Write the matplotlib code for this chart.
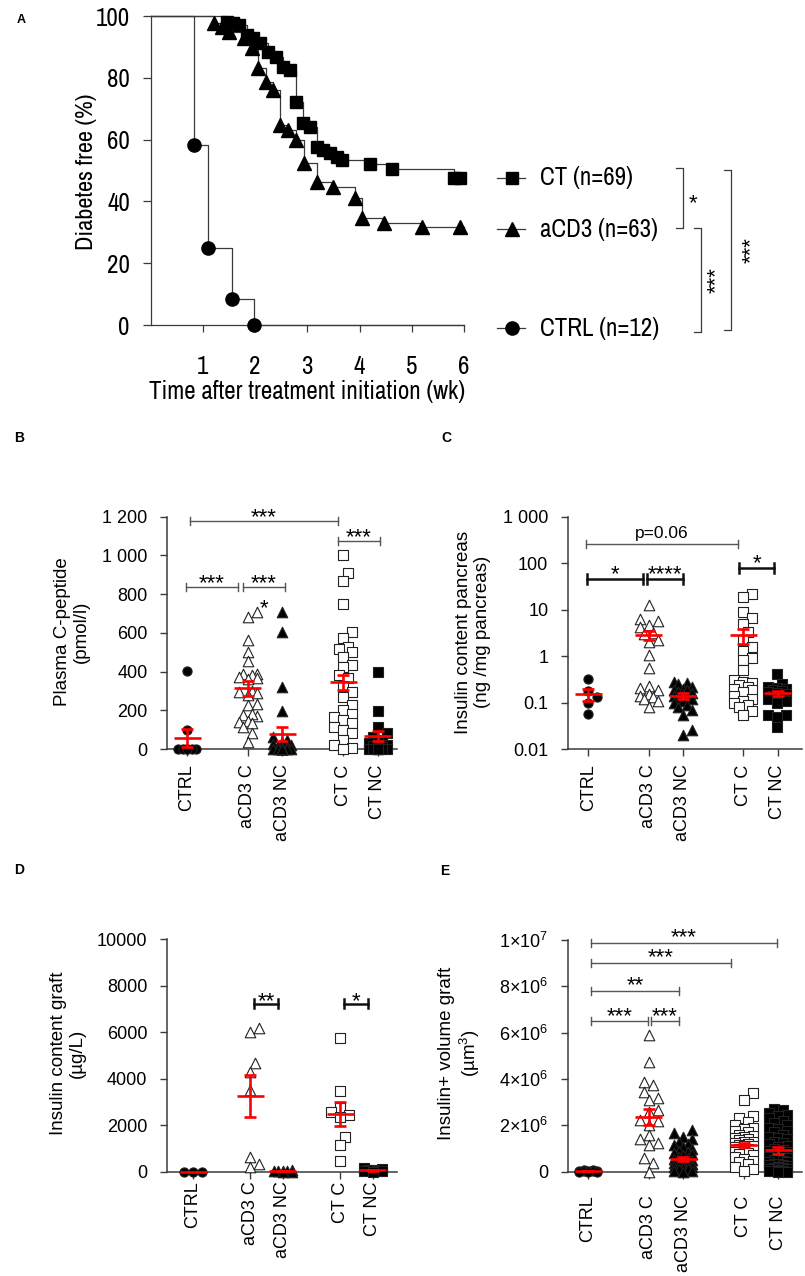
import numpy as np
import matplotlib
matplotlib.use("Agg")
import matplotlib.pyplot as plt
from matplotlib import font_manager as fm
from matplotlib.font_manager import FontProperties

plt.rcParams['font.family'] = ['Liberation Sans', 'DejaVu Sans']
plt.rcParams['mathtext.fontset'] = 'custom'
plt.rcParams['mathtext.rm'] = 'Liberation Sans'
plt.rcParams['mathtext.it'] = 'Liberation Sans:italic'

# panel A uses a narrow font if one is installed
_named = sorted({f.name for f in fm.fontManager.ttflist
                 if ('Narrow' in f.name or 'Condensed' in f.name) and f.weight in (400, 'normal', 'regular')})
_stretched = sorted({f.name for f in fm.fontManager.ttflist
                     if f.stretch in ('condensed', 'semi-condensed') and 'Mono' not in f.name})
if _named:
    A_FAM, A_STR, A_SCALE = _named[0], 'normal', 1.0
elif _stretched:
    A_FAM, A_STR, A_SCALE = _stretched[0], 'condensed', 1.0
else:
    A_FAM, A_STR, A_SCALE = 'Liberation Sans', 'normal', 0.88


def afont(size):
    return FontProperties(family=[A_FAM, 'DejaVu Sans'], stretch=A_STR, size=size * A_SCALE)


# ---------------- data: panel A (Kaplan-Meier) ----------------
ct_t = [1.47, 1.58, 1.70, 1.85, 1.97, 2.10, 2.25, 2.40, 2.54, 2.67, 2.79, 2.91, 3.05,
        3.18, 3.31, 3.44, 3.57, 3.66, 4.20, 4.62, 5.80, 5.92]
ct_s = [98.2, 97.7, 97.1, 93.9, 92.8, 91.2, 88.4, 86.8, 83.6, 82.5, 72.3, 65.3, 64.2,
        57.7, 56.6, 55.6, 54.5, 53.4, 52.1, 50.5, 47.7, 47.7]
acd3_t = [1.21, 1.36, 1.51, 1.78, 1.94, 2.06, 2.21, 2.35, 2.48, 2.64, 2.79, 2.93, 3.19,
          3.50, 3.92, 4.04, 4.47, 5.19, 5.92]
acd3_s = [97.6, 96.5, 94.9, 92.8, 89.5, 83.1, 78.7, 76.1, 64.7, 63.1, 59.9, 52.3, 46.4,
          44.8, 41.0, 34.5, 32.9, 31.8, 31.8]
ctrl_t = [0.83, 1.10, 1.55, 1.98]
ctrl_s = [58.3, 25.0, 8.3, 0.0]
km_names = ['CT (n=69)', 'aCD3 (n=63)', 'CTRL (n=12)']

# ---------------- data: dot plots ----------------
cats = ['CTRL', 'aCD3 C', 'aCD3 NC', 'CT C', 'CT NC']

b_vals = [
    [405, 100, 0, 0, 0, 0, 0, 0],
    [709, 680, 563, 503, 456, 390, 380, 385, 370, 365, 360, 296, 300, 290, 279, 227, 230,
     176, 170, 180, 141, 145, 135, 115, 81, 38],
    [709, 606, 322, 198, 60, 45, 35, 25, 20, 15, 10, 5, 0, 0, 0, 0, 0, 0, 0, 0, 0, 0, 0, 0],
    [1000, 910, 870, 747, 606, 571, 525, 515, 500, 477, 434, 422, 382, 365, 325, 296, 270,
     227, 201, 180, 167, 150, 133, 115, 100, 81, 46, 20, 3, 0],
    [399, 198, 115, 85, 60, 45, 35, 30, 20, 15, 10, 5, 0, 0, 0, 0, 0, 0, 0, 0, 0, 0],
]
b_mean = [56, 313, 77, 344, 67]
b_sem = [45, 40, 38, 40, 27]

c_vals = [
    [0.32, 0.18, 0.10, 0.13, 0.058],
    [12.6, 6.2, 5.8, 4.6, 4.2, 3.2, 3.0, 2.2, 2.0, 1.05, 0.55, 0.23, 0.21, 0.19, 0.15,
     0.14, 0.13, 0.12, 0.11, 0.08],
    [0.28, 0.26, 0.25, 0.22, 0.2, 0.19, 0.19, 0.17, 0.16, 0.15, 0.14, 0.13, 0.12, 0.12,
     0.11, 0.1, 0.09, 0.08, 0.068, 0.054, 0.026, 0.02],
    [22, 19, 9, 6.5, 5, 3.3, 2.2, 1.6, 1.3, 0.9, 0.82, 0.5, 0.3, 0.27, 0.26, 0.24, 0.22,
     0.2, 0.19, 0.17, 0.14, 0.12, 0.11, 0.1, 0.089, 0.08, 0.065, 0.054],
    [0.41, 0.25, 0.22, 0.21, 0.2, 0.19, 0.18, 0.17, 0.16, 0.15, 0.14, 0.13, 0.12, 0.11,
     0.1, 0.055, 0.054, 0.05, 0.03],
]
c_mean = [0.153, 2.8, 0.137, 2.8, 0.158]
c_sem = [0.045, 0.6, 0.02, 0.95, 0.02]

d_vals = [
    [0, 0, 0],
    [6170, 6026, 4663, 4304, 3515, 646, 330, 215],
    [60, 40, 30, 20, 10, 0, 0],
    [5739, 3486, 2755, 2582, 2439, 2367, 1478, 1148, 473],
    [150, 120, 80, 60, 40, 20, 10, 0],
]
d_mean = [0, 3260, 25, 2480, 60]
d_sem = [0, 890, 8, 510, 15]

e_vals = [
    [80e3, 60e3, 50e3, 40e3, 30e3, 20e3, 10e3, 0, 0, 0],
    [5.9e6, 4.72e6, 3.86e6, 3.74e6, 3.45e6, 3.17e6, 3.09e6, 2.66e6, 2.59e6, 2.23e6,
     2.2e6, 2.01e6, 1.58e6, 1.4e6, 1.22e6, 1.15e6, 0.58e6, 0.36e6, 0.0],
    [1.8e6, 1.65e6, 1.5e6, 1.4e6, 1.3e6, 1.2e6, 1.15e6, 1.05e6, 1.0e6, 0.9e6, 0.85e6,
     0.8e6, 0.75e6, 0.7e6, 0.65e6, 0.6e6, 0.55e6, 0.5e6, 0.48e6, 0.45e6, 0.4e6, 0.38e6,
     0.35e6, 0.3e6, 0.28e6, 0.25e6, 0.22e6, 0.2e6, 0.15e6, 0.12e6, 0.1e6, 0.05e6,
     0.02e6, 0.0],
    [3.38e6, 3.1e6, 2.4e6, 2.3e6, 2.15e6, 2.0e6, 1.9e6, 1.85e6, 1.75e6, 1.7e6, 1.6e6,
     1.55e6, 1.5e6, 1.45e6, 1.4e6, 1.35e6, 1.3e6, 1.28e6, 1.25e6, 1.2e6, 1.15e6, 1.12e6,
     1.1e6, 1.05e6, 1.0e6, 0.98e6, 0.95e6, 0.9e6, 0.85e6, 0.8e6, 0.75e6, 0.7e6, 0.62e6,
     0.55e6, 0.45e6, 0.4e6, 0.32e6, 0.2e6, 0.12e6, 0.05e6],
    [2.72e6, 2.65e6, 2.55e6, 2.45e6, 2.4e6, 2.3e6, 2.2e6, 2.1e6, 2.0e6, 1.9e6, 1.85e6,
     1.75e6, 1.7e6, 1.6e6, 1.5e6, 1.45e6, 1.4e6, 1.3e6, 1.25e6, 1.2e6, 1.1e6, 1.05e6,
     1.0e6, 0.95e6, 0.9e6, 0.85e6, 0.8e6, 0.75e6, 0.7e6, 0.65e6, 0.6e6, 0.55e6, 0.5e6,
     0.45e6, 0.42e6, 0.4e6, 0.35e6, 0.32e6, 0.3e6, 0.28e6, 0.25e6, 0.2e6, 0.18e6,
     0.15e6, 0.12e6, 0.1e6, 0.08e6, 0.05e6, 0.03e6, 0.02e6, 0.0, 0.0],
]
e_mean = [30e3, 2.35e6, 0.55e6, 1.15e6, 0.93e6]
e_sem = [10e3, 0.34e6, 0.08e6, 0.1e6, 0.15e6]

# significance bars: (x1, x2, y, label)
b_sig = [(0.09, 4.35, 1177, '***'), (4.35, 5.56, 1076, '***'),
         (-0.04, 1.48, 838, '***'), (1.62, 2.82, 838, '***')]
c_sig_grey = [(-0.07, 4.36, 254, 'p=0.06')]
c_sig = [(-0.05, 1.60, 45, '*'), (1.72, 2.74, 45, '****'), (4.39, 5.41, 80, '*')]
d_sig = [(1.87, 2.61, 7217, '**'), (4.62, 5.36, 7217, '*')]
e_sig = [(0.09, 5.45, 9.88e6, '***'), (0.09, 4.13, 9.02e6, '***'),
         (0.09, 2.64, 7.81e6, '**'), (0.09, 1.74, 6.5e6, '***'), (1.81, 2.64, 6.5e6, '***')]

# ---------------- figure ----------------
W, H = 805, 1276
fig = plt.figure(figsize=(W / 100, H / 100), dpi=100)
AXC = '#3a3a3a'
STAR = 16


def px_ax(left, top, right, bottom):
    return fig.add_axes([left / W, 1 - bottom / H, (right - left) / W, (bottom - top) / H])


def ftext(x, y, s, **kw):
    return fig.text(x / W, 1 - y / H, s, **kw)


def ystep(ax, y, dpx):
    yd = ax.transData.transform((0, y))[1]
    return ax.transData.inverted().transform((0, yd + dpx))[1]


# ---------- panel A ----------
axA = px_ax(150.6, 16, 464, 325)
axA.set_xlim(0, 6)
axA.set_ylim(0, 100)
km = [(ct_t, ct_s, 's', 9), (acd3_t, acd3_s, '^', 10), (ctrl_t, ctrl_s, 'o', 9.5)]
for t, s, m, ms in km:
    axA.step([0] + t + [6], [100] + s + [s[-1]], where='post', color=AXC, lw=0.9,
             clip_on=False)
    axA.plot(t, s, ls='none', marker=m, ms=ms, color='black', clip_on=False, zorder=3)

leg_y = [47.7, 31.0, -1.0]
for (t, s, m, ms), name, y in zip(km, km_names, leg_y):
    axA.plot([6.64, 7.17], [y, y], color=AXC, lw=0.9, clip_on=False)
    axA.plot([6.92], [y], marker=m, ms=ms, color='black', clip_on=False)
    axA.text(7.46, y, name, ha='left', va='center', fontproperties=afont(18))


# brackets to the right
def vbracket(x, y1, y2):
    axA.plot([x - 0.13, x, x, x - 0.13], [y1, y1, y2, y2], color=AXC, lw=0.9, clip_on=False)


vbracket(10.19, 50.8, 31.4)
vbracket(10.54, 31.4, -2.3)
vbracket(11.11, 50.2, -1.6)
axA.text(10.39, 39.3, '*', ha='center', va='center', fontsize=STAR)
axA.text(10.84, 14.6, '***', ha='center', va='center', rotation=90, fontsize=STAR)
axA.text(11.51, 24.3, '***', ha='center', va='center', rotation=90, fontsize=STAR)

for sp in ['top', 'right']:
    axA.spines[sp].set_visible(False)
for sp in ['left', 'bottom']:
    axA.spines[sp].set_color(AXC)
    axA.spines[sp].set_linewidth(0.9)
axA.set_xticks([1, 2, 3, 4, 5, 6])
axA.set_yticks([0, 20, 40, 60, 80, 100])
axA.tick_params(axis='x', length=5, width=0.9, color=AXC, pad=16.5)
axA.tick_params(axis='y', length=6, width=0.9, color=AXC, pad=9)
for lab in axA.get_xticklabels() + axA.get_yticklabels():
    lab.set_fontproperties(afont(18))
ftext(86, 172, 'Diabetes free (%)', rotation=90, ha='center', va='center',
      fontproperties=afont(17.5))
ftext(307, 391, 'Time after treatment initiation (wk)', ha='center', va='center',
      fontproperties=afont(18))
ftext(21, 20, 'A', fontsize=9, fontweight='bold', ha='center', va='center')

# ---------- dot plot helpers ----------
POS = [0, 1.75, 2.75, 4.5, 5.5]
MARK = [('o', True, 6.6), ('^', False, 7.6), ('^', True, 7.6), ('s', False, 6.6), ('s', True, 6.6)]


def swarm(ax, xc, vals, d, maxw):
    xy = ax.transData.transform(np.column_stack([np.full(len(vals), xc), vals]))
    x0, ys = xy[0, 0], xy[:, 1]
    stp = d * 0.5
    cands = [0.0]
    n = 1
    while n * stp <= maxw:
        cands += [n * stp, -n * stp]
        n += 1
    placed, off = [], np.zeros(len(vals))
    for i in np.argsort(ys):
        best, bestgap = 0.0, -1.0
        for c in cands:
            gap = min([np.hypot(c - px, ys[i] - py) for px, py in placed], default=1e9)
            if gap >= d * 0.95:
                best = c
                break
            if gap > bestgap:
                best, bestgap = c, gap
        placed.append((best, ys[i]))
        off[i] = best
    return ax.transData.inverted().transform(np.column_stack([x0 + off, ys]))[:, 0]


def dot_panel(ax, vals, means, sems, unit, dpx=9.0, maxw=10.0):
    for k, v in enumerate(vals):
        m, filled, ms = MARK[k]
        xs = swarm(ax, POS[k], v, dpx, maxw)
        ax.scatter(xs, v, marker=m, s=ms ** 2, facecolor='black' if filled else 'white',
                   edgecolor='#222222', linewidths=0.8, zorder=3, clip_on=False)
        mu, se = means[k], sems[k]
        hw, cw = 13.5 / unit, 6.0 / unit
        kw = dict(color='#ff0000', lw=1.9, zorder=5, clip_on=False, solid_capstyle='butt')
        ax.plot([POS[k] - hw, POS[k] + hw], [mu, mu], **kw)
        if se > 0:
            ax.plot([POS[k], POS[k]], [mu - se, mu + se], **kw)
            ax.plot([POS[k] - cw, POS[k] + cw], [mu + se] * 2, **kw)
            ax.plot([POS[k] - cw, POS[k] + cw], [mu - se] * 2, **kw)


def sig(ax, bars, color, lw, cap, tdy, fs):
    for x1, x2, y, lab in bars:
        lo, hi = ystep(ax, y, -cap), ystep(ax, y, cap)
        ax.plot([x1, x2], [y, y], color=color, lw=lw, clip_on=False)
        ax.plot([x1, x1], [lo, hi], color=color, lw=lw, clip_on=False)
        ax.plot([x2, x2], [lo, hi], color=color, lw=lw, clip_on=False)
        ax.annotate(lab, ((x1 + x2) / 2, y), xytext=(0, tdy), textcoords='offset points',
                    ha='center', va='center', fontsize=fs, annotation_clip=False)


def style_ax(ax, yticks, ylabels, pad_x):
    for sp in ['top', 'right']:
        ax.spines[sp].set_visible(False)
    for sp in ['left', 'bottom']:
        ax.spines[sp].set_color(AXC)
        ax.spines[sp].set_linewidth(1.1)
    ax.set_yticks(yticks, ylabels)
    ax.set_xticks(POS, cats, rotation=90)
    ax.tick_params(axis='y', length=5, width=1.0, color=AXC, pad=9, labelsize=13)
    ax.tick_params(axis='x', length=5, width=1.0, color=AXC, pad=pad_x, labelsize=13)
    ax.minorticks_off()


def make_ax(left, top, right, bottom, pos0, unit):
    ax = px_ax(left, top, right, bottom)
    ax.set_xlim((left - pos0) / unit, (right - pos0) / unit)
    return ax


# ---------- panel B ----------
axB = make_ax(167, 516.7, 397, 749, 187, 34.7)
axB.set_ylim(0, 1200)
dot_panel(axB, b_vals, b_mean, b_sem, 34.7)
sig(axB, b_sig, '#555555', 1.0, 4, 2.2, STAR)
axB.text(2.22, 725, '*', ha='center', va='center', fontsize=STAR)
style_ax(axB, [0, 200, 400, 600, 800, 1000, 1200],
         ['0', '200', '400', '600', '800', '1 000', '1 200'], 6)
ftext(72, 632, 'Plasma C-peptide\n(pmol/l)', rotation=90, ha='center', va='center',
      fontsize=13.5, multialignment='center')
ftext(19, 438, 'B', fontsize=10, fontweight='bold', ha='center', va='center')

# ---------- panel C ----------
axC = make_ax(567.7, 516.7, 802, 749, 588.3, 34.4)
axC.set_yscale('log')
axC.set_ylim(0.01, 1000)
dot_panel(axC, c_vals, c_mean, c_sem, 34.4)
sig(axC, c_sig_grey, '#555555', 1.0, 4, 8, 12.5)
sig(axC, c_sig, '#111111', 1.8, 5, 3, STAR)
style_ax(axC, [0.01, 0.1, 1, 10, 100, 1000], ['0.01', '0.1', '1', '10', '100', '1 000'], 6)
ftext(473, 632, 'Insulin content pancreas\n(ng /mg pancreas)', rotation=90, ha='center',
      va='center', fontsize=13.5, multialignment='center')
ftext(446, 438, 'C', fontsize=10, fontweight='bold', ha='center', va='center')

# ---------- panel D ----------
axD = make_ax(166.7, 939.3, 397, 1171.7, 193, 32.7)
axD.set_ylim(0, 10000)
dot_panel(axD, d_vals, d_mean, d_sem, 32.7)
sig(axD, d_sig, '#111111', 1.8, 4.5, 1.5, STAR)
style_ax(axD, [0, 2000, 4000, 6000, 8000, 10000],
         ['0', '2000', '4000', '6000', '8000', '10000'], 2)
ftext(68, 1053, 'Insulin content graft\n(µg/L)', rotation=90, ha='center', va='center',
      fontsize=13.5, multialignment='center')
ftext(19, 870, 'D', fontsize=10, fontweight='bold', ha='center', va='center')

# ---------- panel E ----------
axE = make_ax(567.7, 940, 802, 1171.7, 588, 34.6)
axE.set_ylim(0, 1e7)
dot_panel(axE, e_vals, e_mean, e_sem, 34.6)
sig(axE, e_sig, '#555555', 1.0, 4, 3.5, STAR)
style_ax(axE, [0, 2e6, 4e6, 6e6, 8e6, 1e7],
         ['0', r'$\mathregular{2{\times}10^6}$', r'$\mathregular{4{\times}10^6}$',
          r'$\mathregular{6{\times}10^6}$', r'$\mathregular{8{\times}10^6}$',
          r'$\mathregular{1{\times}10^7}$'], 12)
ftext(460, 1053, 'Insulin+ volume graft\n(µm$^3$)', rotation=90, ha='center', va='center',
      fontsize=13.5, multialignment='center')
ftext(445, 871, 'E', fontsize=10, fontweight='bold', ha='center', va='center')

fig.savefig('out.png', dpi=100)
